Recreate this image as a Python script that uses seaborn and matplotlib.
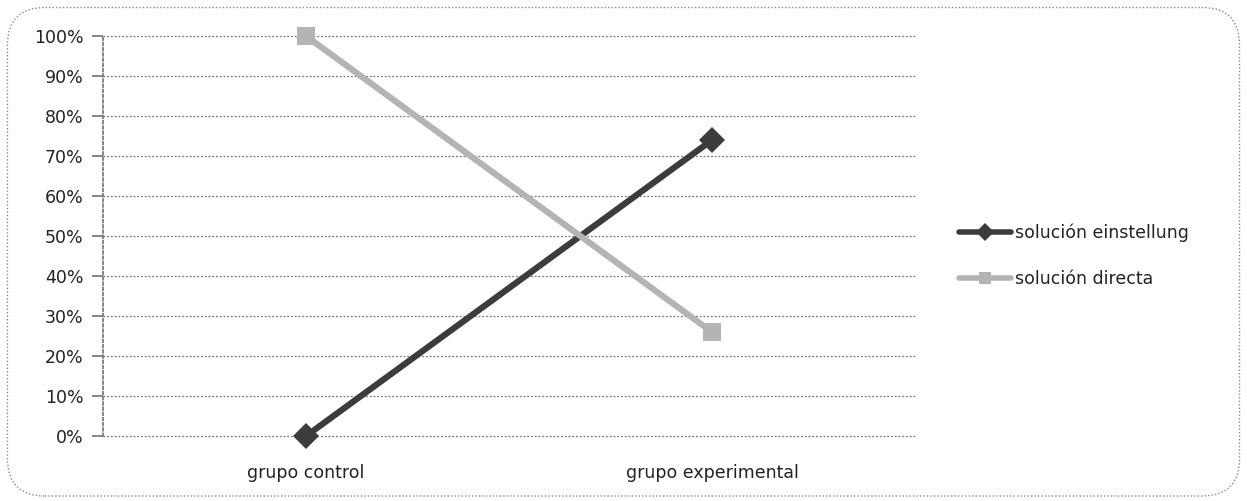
import pandas as pd
import matplotlib.pyplot as plt
import seaborn as sns
from matplotlib.patches import FancyBboxPatch
from matplotlib.ticker import PercentFormatter

groups = ['grupo control', 'grupo experimental']
einstellung = [0.0, 0.74]
directa = [1.0, 0.26]
series_names = ['solución einstellung', 'solución directa']
yticks = [i / 10 for i in range(11)]

sns.set_theme(style='white')
plt.rcParams['font.family'] = ['DejaVu Sans']

df = pd.DataFrame({
    'grupo': groups * 2,
    'valor': einstellung + directa,
    'serie': [series_names[0]] * 2 + [series_names[1]] * 2,
})

fig = plt.figure(figsize=(12.47, 5.01), dpi=100)
ax = fig.add_axes([0.0826, 0.1297, 0.6512, 0.7983])

palette = {series_names[0]: '#3c3c3c', series_names[1]: '#b4b4b4'}
markers = {series_names[0]: 'D', series_names[1]: 's'}
sns.lineplot(data=df, x='grupo', y='valor', hue='serie', style='serie',
             palette=palette, markers=markers, dashes=False, linewidth=4.5,
             markersize=13, markeredgewidth=0, ax=ax)
for ln in ax.lines:
    ln.set_clip_on(False)
    ln.set_zorder(5)

ax.set_xlim(-0.5, 1.5)
ax.set_ylim(0, 1)
ax.set_yticks(yticks)
ax.yaxis.set_major_formatter(PercentFormatter(1.0, decimals=0))
ax.grid(axis='y', color='#777777', linestyle=(0, (1.5, 1.5)), linewidth=0.9)
for gl in ax.get_ygridlines():
    gl.set_clip_on(False)
ax.set_axisbelow(True)
for s in ['top', 'right', 'bottom']:
    ax.spines[s].set_visible(False)
ax.spines['left'].set_color('#777777')
ax.spines['left'].set_linestyle((0, (1.5, 1.5)))
ax.tick_params(axis='y', left=True, length=8, color='#777777', labelsize=12.5,
               pad=6, labelcolor='#222222')
ax.tick_params(axis='x', bottom=False, labelsize=12.5, pad=14, labelcolor='#222222')
ax.set_xlabel('')
ax.set_ylabel('')

leg = ax.legend(loc='center left', bbox_to_anchor=(1.035, 0.45), frameon=False,
                fontsize=12.5, handlelength=3, handletextpad=0.2, labelspacing=1.6,
                labelcolor='#222222')
for h in leg.legend_handles:
    h.set_linewidth(4)
    h.set_markersize(9)

border = FancyBboxPatch((0.006, 0.01), 0.988, 0.975, transform=fig.transFigure,
                        boxstyle='round,pad=0,rounding_size=0.03',
                        fill=False, edgecolor='#888888', linestyle=(0, (1, 1.5)),
                        linewidth=1, mutation_aspect=2.49)
fig.patches.append(border)

fig.savefig('out.png', dpi=100)
